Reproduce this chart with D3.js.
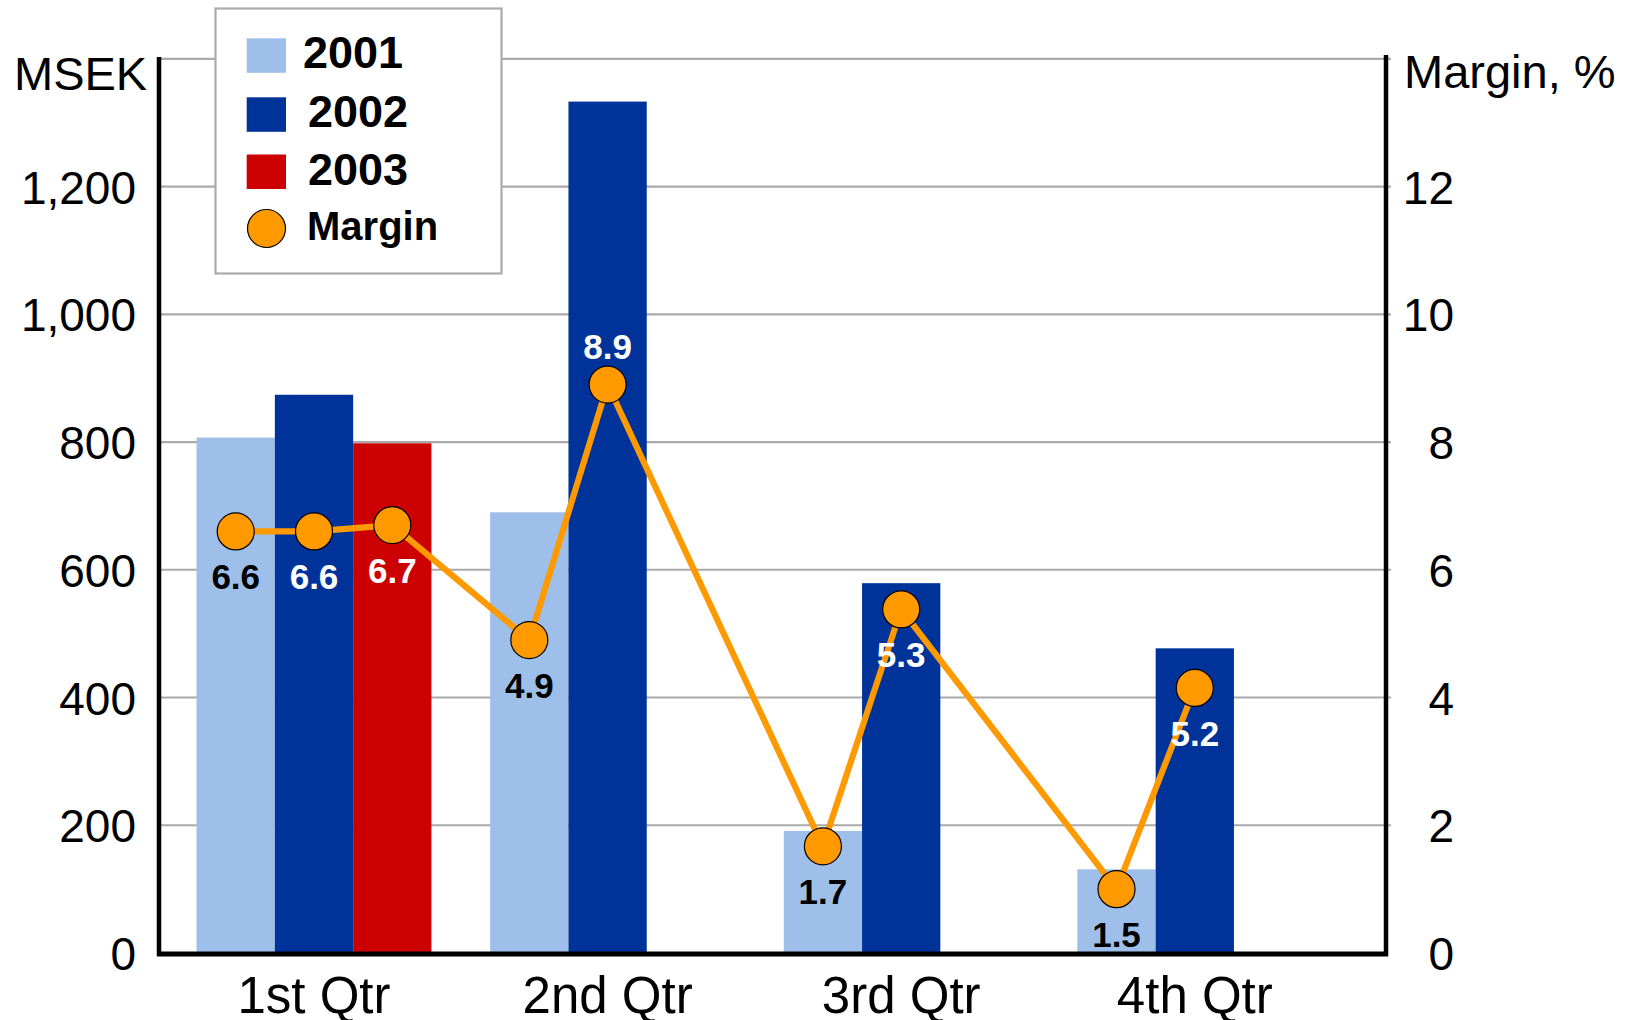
<!DOCTYPE html>
<html>
<head>
<meta charset="utf-8">
<script src="https://cdn.jsdelivr.net/npm/d3@7/dist/d3.min.js"></script>
<style>
  html, body { margin: 0; padding: 0; background: #fff; }
  svg { display: block; font-family: "Liberation Sans", Arial, Helvetica, sans-serif; }
</style>
</head>
<body>
<svg id="chart" width="1640" height="1020"></svg>
<script>
// ---- data ----
const categories = ["1st Qtr", "2nd Qtr", "3rd Qtr", "4th Qtr"];
const years = ["2001", "2002", "2003"];
const sales2001 = [807, 690, 191, 131];
const sales2002 = [874, 1333, 579, 477];
const sales2003 = [798, null, null, null];
// margin points as plotted in the picture
const margin2001 = [6.6, 4.9, 1.67, 1.0];
const margin2002 = [6.6, 8.9, 5.38, 4.15];
const margin2003 = [6.7, null, null, null];
// margin labels as printed
const marginLabel2001 = ["6.6", "4.9", "1.7", "1.5"];
const marginLabel2002 = ["6.6", "8.9", "5.3", "5.2"];
const marginLabel2003 = ["6.7", null, null, null];
const leftTicks = [0, 200, 400, 600, 800, 1000, 1200];
const leftTickLabels = ["0", "200", "400", "600", "800", "1,000", "1,200"];
const rightTicks = [0, 2, 4, 6, 8, 10, 12];
const gridValues = [200, 400, 600, 800, 1000, 1200, 1400];

const colors = { "2001": "#9DBFEA", "2002": "#003399", "2003": "#CC0000" };
const labelColors = { "2001": "#000", "2002": "#fff", "2003": "#fff" };
const orange = "#FF9900";

const salesBy = { "2001": sales2001, "2002": sales2002, "2003": sales2003 };
const marginBy = { "2001": margin2001, "2002": margin2002, "2003": margin2003 };
const labelBy = { "2001": marginLabel2001, "2002": marginLabel2002, "2003": marginLabel2003 };

// ---- layout ----
const svg = d3.select("#chart");
const FONT = "\"Liberation Sans\", Arial, Helvetica, sans-serif";
const axisLeftX = 159, axisRightX = 1386, zeroY = 953, topY = 58.8;

const x = d3.scaleBand().domain(categories).range([167.2, 1341.6]).paddingInner(0.2).paddingOuter(0.1);
const xs = d3.scaleBand().domain(years).range([0, x.bandwidth()]);
const yL = d3.scaleLinear().domain([0, 1400]).range([zeroY, topY]);
const yR = d3.scaleLinear().domain([0, 14]).range([zeroY, topY]);

// gridlines
svg.append("g").selectAll("line").data(gridValues).join("line")
  .attr("x1", axisLeftX).attr("x2", axisRightX + 5)
  .attr("y1", d => yL(d)).attr("y2", d => yL(d))
  .attr("stroke", "#aaaaaa").attr("stroke-width", 2.2);

// bars
const barData = [];
categories.forEach((c, i) => years.forEach(yr => {
  const v = salesBy[yr][i];
  if (v != null) barData.push({ c, yr, v });
}));
svg.append("g").selectAll("rect").data(barData).join("rect")
  .attr("x", d => x(d.c) + xs(d.yr))
  .attr("width", xs.bandwidth())
  .attr("y", d => yL(d.v))
  .attr("height", d => yL(0) - yL(d.v))
  .attr("fill", d => colors[d.yr]);

// axes lines
svg.append("line").attr("x1", axisLeftX).attr("x2", axisLeftX).attr("y1", 57).attr("y2", zeroY + 3)
  .attr("stroke", "#000").attr("stroke-width", 4.5);
svg.append("line").attr("x1", axisRightX).attr("x2", axisRightX).attr("y1", 55).attr("y2", zeroY + 3)
  .attr("stroke", "#000").attr("stroke-width", 4.5);
svg.append("line").attr("x1", axisLeftX - 2).attr("x2", axisRightX + 2).attr("y1", zeroY + 1).attr("y2", zeroY + 1)
  .attr("stroke", "#000").attr("stroke-width", 5);

// margin line + dots
const pts = [];
categories.forEach((c, i) => years.forEach(yr => {
  const m = marginBy[yr][i];
  if (m != null) pts.push({ c, yr, m, label: labelBy[yr][i],
    cx: x(c) + xs(yr) + xs.bandwidth() / 2 });
}));
svg.append("path").datum(pts)
  .attr("d", d3.line().x(d => d.cx).y(d => yR(d.m)))
  .attr("fill", "none").attr("stroke", orange).attr("stroke-width", 6.2).attr("stroke-linejoin", "round");
svg.append("g").selectAll("circle").data(pts).join("circle")
  .attr("cx", d => d.cx).attr("cy", d => yR(d.m)).attr("r", 18.5)
  .attr("fill", orange).attr("stroke", "#000").attr("stroke-width", 1.2);

const maxM = d3.max(pts, d => d.m);
svg.append("g").selectAll("text").data(pts).join("text")
  .attr("x", d => d.cx)
  .attr("y", d => yR(d.m) + (d.m === maxM ? -26 : 58))
  .attr("text-anchor", "middle")
  .attr("font-family", FONT).attr("font-weight", "bold").attr("font-size", 35)
  .attr("fill", d => labelColors[d.yr])
  .text(d => d.label);

// left axis ticks
const gL = svg.append("g").attr("transform", "translate(136,0)")
  .call(d3.axisLeft(yL).tickValues(leftTicks).tickSize(0).tickPadding(0)
    .tickFormat((d, i) => leftTickLabels[i]));
gL.select(".domain").remove();
gL.selectAll("text").attr("font-family", FONT).attr("font-size", 46).attr("fill", "#000").attr("dy", "0.36em");

// right axis ticks (right-aligned)
const gR = svg.append("g").attr("transform", "translate(1454,0)")
  .call(d3.axisLeft(yR).tickValues(rightTicks).tickSize(0).tickPadding(0));
gR.select(".domain").remove();
gR.selectAll("text").attr("font-family", FONT).attr("font-size", 46).attr("fill", "#000").attr("dy", "0.36em");

// bottom axis
const gB = svg.append("g").attr("transform", `translate(0,${zeroY})`)
  .call(d3.axisBottom(x).tickSize(0).tickPadding(0));
gB.select(".domain").remove();
gB.selectAll("text").attr("font-family", FONT).attr("font-size", 51).attr("fill", "#000")
  .attr("y", 60).attr("dy", 0);

// axis titles
svg.append("text").attr("x", 14).attr("y", 90).attr("font-family", FONT).attr("font-size", 47).text("MSEK");
svg.append("text").attr("x", 1404).attr("y", 88).attr("font-family", FONT).attr("font-size", 47).text("Margin, %");

// legend
const lg = svg.append("g");
lg.append("rect").attr("x", 215.5).attr("y", 8.5).attr("width", 286).attr("height", 265)
  .attr("fill", "#fff").attr("stroke", "#aaaaaa").attr("stroke-width", 2.2);
const legendRows = [
  { key: "2001", y: 38.3, tx: 303, ty: 68, fs: 45 },
  { key: "2002", y: 97.3, tx: 308, ty: 127, fs: 45 },
  { key: "2003", y: 154.5, tx: 308, ty: 185, fs: 45 }
];
legendRows.forEach(r => {
  lg.append("rect").attr("x", 246.7).attr("y", r.y).attr("width", 39.3).attr("height", 34.5).attr("fill", colors[r.key]);
  lg.append("text").attr("x", r.tx).attr("y", r.ty).attr("font-family", FONT).attr("font-weight", "bold")
    .attr("font-size", r.fs).text(r.key);
});
lg.append("circle").attr("cx", 266.5).attr("cy", 228.5).attr("r", 19)
  .attr("fill", orange).attr("stroke", "#000").attr("stroke-width", 1.2);
lg.append("text").attr("x", 307).attr("y", 240).attr("font-family", FONT).attr("font-weight", "bold")
  .attr("font-size", 40).text("Margin");
</script>
</body>
</html>
